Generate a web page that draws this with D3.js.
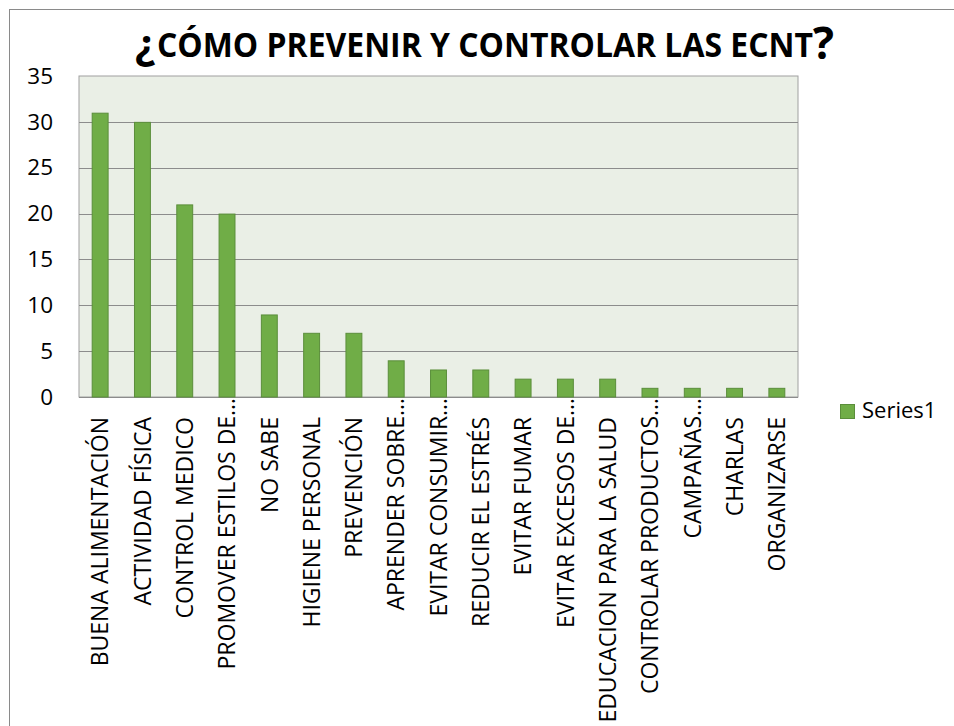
<!DOCTYPE html>
<html><head><meta charset="utf-8">
<script src="https://cdn.jsdelivr.net/npm/d3@7/dist/d3.min.js"></script>
<style>
html,body{margin:0;padding:0;background:#fff;}
svg{display:block;font-family:'Open Sans',sans-serif;}
</style></head>
<body>
<svg id="chart" width="954" height="726"></svg>
<script>
const categories = ["BUENA ALIMENTACIÓN","ACTIVIDAD FÍSICA","CONTROL MEDICO","PROMOVER ESTILOS DE…","NO SABE","HIGIENE PERSONAL","PREVENCIÓN","APRENDER SOBRE…","EVITAR CONSUMIR…","REDUCIR EL ESTRÉS","EVITAR FUMAR","EVITAR EXCESOS DE…","EDUCACION PARA LA SALUD","CONTROLAR PRODUCTOS…","CAMPAÑAS…","CHARLAS","ORGANIZARSE"];
const series1 = [31,30,21,20,9,7,7,4,3,3,2,2,2,1,1,1,1];
const yTicks = [0,5,10,15,20,25,30,35];
const seriesName = "Series1";
const titleText = "CÓMO PREVENIR Y CONTROLAR LAS ECNT";

const svg = d3.select("#chart");
const M = {left:79, right:798, top:76, bottom:397};

// outer chart border
svg.append("rect").attr("x",9.5).attr("y",9.5).attr("width",1000).attr("height",1000)
  .attr("fill","#fff").attr("stroke","#8a8a8a").attr("stroke-width",1);

const x = d3.scaleBand().domain(categories).range([M.left,M.right]).paddingInner(0.6).paddingOuter(0.3);
const y = d3.scaleLinear().domain([0,35]).range([M.bottom,M.top]);

// plot background
svg.append("rect").attr("x",M.left).attr("y",M.top).attr("width",M.right-M.left).attr("height",M.bottom-M.top)
  .attr("fill","#EAEFE6").attr("stroke","#a0a0a0").attr("stroke-width",1);

// gridlines
svg.append("g").selectAll("line").data(yTicks.filter(d=>d>0 && d<35)).join("line")
  .attr("x1",M.left).attr("x2",M.right)
  .attr("y1",d=>Math.round(y(d))+0.5).attr("y2",d=>Math.round(y(d))+0.5)
  .attr("stroke","#8c8c8c").attr("stroke-width",1);

// y axis
const yAxis = d3.axisLeft(y).tickValues(yTicks).tickSize(0).tickPadding(26);
const ga = svg.append("g").attr("transform",`translate(${M.left},0)`).call(yAxis);
ga.select(".domain").remove();
ga.selectAll("text").attr("font-size",22.5).attr("fill","#000").attr("font-family","'Open Sans',sans-serif");

// x axis line
svg.append("line").attr("x1",M.left).attr("x2",M.right).attr("y1",M.bottom+0.5).attr("y2",M.bottom+0.5)
  .attr("stroke","#8c8c8c");

// bars
svg.append("g").selectAll("rect").data(series1).join("rect")
  .attr("x",(d,i)=>x(categories[i])+0.5)
  .attr("y",d=>y(d)+0.5)
  .attr("width",x.bandwidth()-1)
  .attr("height",d=>y(0)-y(d)-0.5)
  .attr("fill","#70AD47").attr("stroke","#5B8E3B").attr("stroke-width",1);

// category labels
svg.append("g").selectAll("text").data(categories).join("text")
  .attr("transform",d=>{
    const cx = x(d)+x.bandwidth()/2;
    const yy = d.endsWith("…") ? 398 : 417;
    return `translate(${cx},${yy}) rotate(-90)`;
  })
  .attr("dy","0.36em")
  .attr("text-anchor","end")
  .attr("font-size",23)
  .attr("fill","#000")
  .text(d=>d);

// title
const tg = svg.append("g").attr("font-weight","bold").attr("fill","#000");
tg.append("text").attr("x",155).attr("y",59).attr("text-anchor","end").attr("font-size",42).text("¿");
const mainT = tg.append("text").attr("x",0).attr("y",0).attr("font-size",33.5).text(titleText);
const natural = mainT.node().getComputedTextLength();
const sx = 656 / natural;
mainT.attr("transform",`translate(157,57) scale(${sx},1)`);
tg.append("text").attr("x",813).attr("y",59).attr("font-size",44).text("?");

// legend
const lg = svg.append("g").attr("transform","translate(840,404)");
lg.append("rect").attr("x",0.5).attr("y",0.5).attr("width",14).attr("height",14)
  .attr("fill","#70AD47").attr("stroke","#5B8E3B");
lg.append("text").attr("x",22).attr("y",14).attr("font-size",22).attr("fill","#000").text(seriesName);
</script>
</body></html>
